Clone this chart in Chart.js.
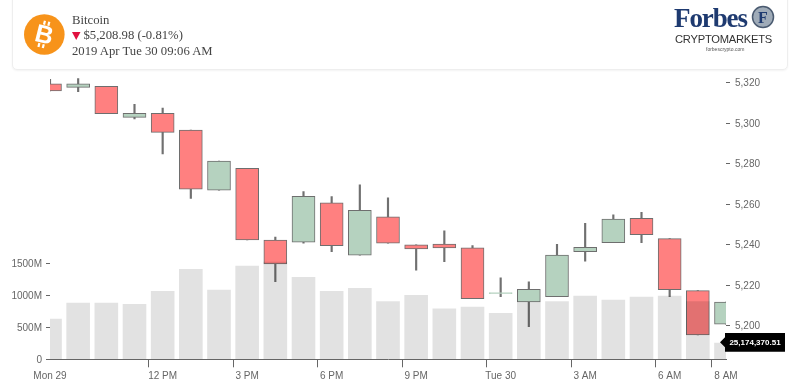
<!DOCTYPE html>
<html><head><meta charset="utf-8">
<script src="https://cdn.jsdelivr.net/npm/chart.js@4"></script>
<style>
html,body{margin:0;padding:0;background:#fff;width:801px;height:383px;overflow:hidden}
#wrap{position:relative;width:801px;height:383px}
canvas{position:absolute;left:0;top:0}
#card{position:absolute;left:12px;top:-6px;width:774px;height:74px;border:1px solid #eee;border-radius:5px;box-shadow:0 1px 2px rgba(0,0,0,.05);background:#fff}
.t{position:absolute;font-family:"Liberation Serif",serif;font-size:12.7px;color:#444;white-space:nowrap;line-height:15px}
.s{position:absolute;white-space:nowrap}
</style></head><body>
<div id="wrap">
<canvas id="c" width="801" height="383"></canvas>
<div id="card"></div>
<svg class="s" style="left:24px;top:14px" width="41" height="41" viewBox="0 0 41 41">
<circle cx="20.3" cy="20.5" r="20.3" fill="#F7931A"/>
<g transform="rotate(14 20.3 20.5)" fill="#fff">
<rect x="16.5" y="7" width="2.2" height="4"/><rect x="21" y="7" width="2.2" height="4"/>
<rect x="16.5" y="30" width="2.2" height="4"/><rect x="21" y="30" width="2.2" height="4"/>
<text x="20.3" y="29" text-anchor="middle" font-family="Liberation Sans" font-weight="700" font-size="25">B</text>
</g></svg>
<div class="t" style="left:72px;top:13px">Bitcoin</div>
<svg class="s" style="left:72px;top:32px" width="9" height="9"><polygon points="0,0 8.5,0 4.2,8" fill="#E0103F"/></svg>
<div class="t" style="left:83.5px;top:28px">$5,208.98 (-0.81%)</div>
<div class="t" style="left:72px;top:44px">2019 Apr Tue 30 09:06 AM</div>
<div class="s" style="left:674px;top:3px;font:700 27px/30px 'Liberation Serif',serif;color:#1E3A70;letter-spacing:-1.1px">Forbes</div>
<svg class="s" style="left:751px;top:5px" width="24" height="24"><circle cx="12" cy="12" r="10.5" fill="#9fabb8" stroke="#4a5a70" stroke-width="1.5"/><text x="12" y="17.5" text-anchor="middle" font-family="Liberation Serif" font-weight="700" font-size="16" fill="#1E3A70">F</text></svg>
<div class="s" style="left:675px;top:31px;font:400 11.2px/16px 'Liberation Sans',sans-serif;color:#333;letter-spacing:-.25px">CRYPTOMARKETS</div>
<div class="s" style="left:706px;top:46px;font:400 5px/6px 'Liberation Sans',sans-serif;color:#555">forbescrypto.com</div>
</div>
<script>
const categories = ['08:00','09:00','10:00','11:00','12:00','13:00','14:00','15:00','16:00','17:00','18:00','19:00','20:00','21:00','22:00','23:00','00:00','01:00','02:00','03:00','04:00','05:00','06:00','07:00','08:00'];
const xTickLabels = ['Mon 29','','','','12 PM','','','3 PM','','','6 PM','','','9 PM','','','Tue 30','','','3 AM','','','6 AM','','8 AM'];
const opens  = [5319.5,5317.7,5318.2,5302.9,5304.9,5296.6,5266.9,5277.7,5242.3,5241.2,5260.7,5234.8,5253.8,5239.9,5240.3,5238.4,5216.3,5211.7,5214.3,5236.5,5241.0,5253.0,5243.0,5217.3,5200.8];
const closes = [5315.9,5319.5,5304.7,5304.9,5295.5,5267.4,5281.3,5242.3,5230.5,5263.9,5239.5,5257.0,5240.7,5237.9,5238.4,5213.3,5215.8,5218.0,5234.9,5238.7,5252.7,5244.9,5217.8,5195.4,5211.7];
const highs  = [5321.6,5322.0,5318.2,5309.3,5307.5,5296.6,5281.3,5277.7,5243.8,5266.2,5263.7,5269.6,5263.1,5239.9,5246.8,5239.5,5223.6,5221.7,5240.2,5250.6,5254.7,5256.0,5243.0,5217.3,5211.7];
const lows   = [5315.9,5315.6,5304.7,5302.1,5284.8,5262.9,5266.9,5242.3,5221.7,5240.8,5236.5,5234.8,5240.7,5227.4,5231.6,5213.3,5214.3,5199.5,5214.3,5231.8,5241.0,5241.0,5214.3,5195.4,5200.8];
const volumes = [630,880,880,860,1062,1406,1083,1458,1520,1281,1062,1109,900,1000,790,817,718,895,900,989,927,973,989,900,255];
const priceTicks = [5200,5220,5240,5260,5280,5300,5320];
const volumeTicks = [0,500,1000,1500];
const lastVolumeLabel = '25,174,370.51';

const RED='#FF8080', GREEN='#B5D2BF', EDGE='#6e6e6e', INK='#666';
const fnt={family:'"Liberation Sans",Arial,sans-serif',size:10};
const isFlat=i=>Math.abs(opens[i]-closes[i])<0.6;

const lastTag={id:'lastTag',afterDatasetsDraw(chart){
  const {ctx}=chart, py=chart.scales.y1.getPixelForValue(volumes[volumes.length-1])-0.7;
  const px=chart.scales.x.getPixelForValue(volumes.length-1);
  const tip=px-6, l=px-1, r=px+59, h=9.4;
  ctx.save();
  ctx.fillStyle='#000';
  ctx.beginPath();ctx.moveTo(tip,py);ctx.lineTo(l,py-5);ctx.lineTo(l,py-h);ctx.lineTo(r,py-h);ctx.lineTo(r,py+h);ctx.lineTo(l,py+h);ctx.lineTo(l,py+5);ctx.closePath();ctx.fill();
  ctx.fillStyle='#fff';ctx.font='700 8px "Liberation Sans",Arial,sans-serif';ctx.textAlign='center';ctx.textBaseline='middle';
  ctx.fillText(lastVolumeLabel,(l+r)/2,py+0.5);
  ctx.restore();
}};

new Chart(document.getElementById('c'),{
  type:'bar',
  data:{labels:categories,datasets:[
    {label:'Volume',yAxisID:'y1',data:volumes,order:1,grouped:false,barThickness:23,backgroundColor:'rgba(0,0,0,0.115)',borderWidth:0},
    {label:'Body',yAxisID:'y',data:opens.map((o,i)=>[o,closes[i]]),order:2,grouped:false,barThickness:23,
      backgroundColor:ctx=>(closes[ctx.dataIndex]>=opens[ctx.dataIndex]||isFlat(ctx.dataIndex))?GREEN:RED,
      borderColor:ctx=>isFlat(ctx.dataIndex)?GREEN:EDGE,borderWidth:1,borderSkipped:false},
    {label:'Wick',yAxisID:'y',data:lows.map((l,i)=>[l,highs[i]]),order:3,grouped:false,barThickness:1.5,backgroundColor:'#707070',borderWidth:0}
  ]},
  options:{
    responsive:false,animation:false,
    layout:{padding:{top:75,left:0,right:0,bottom:0}},
    plugins:{legend:{display:false},tooltip:{enabled:false}},
    scales:{
      x:{offset:false,
        grid:{drawOnChartArea:false,tickLength:8,tickColor:c=>xTickLabels[c.index]?INK:'rgba(0,0,0,0)'},
        border:{color:INK},
        ticks:{autoSkip:false,maxRotation:0,minRotation:0,padding:3,color:INK,font:fnt,callback:(v,i)=>xTickLabels[i]},
        afterFit:s=>{s.height=23.7}},
      y:{position:'right',min:5183.4,max:5323.8,
        grid:{drawOnChartArea:false,tickLength:4,tickColor:INK},border:{display:false},
        afterBuildTicks:s=>{s.ticks=priceTicks.map(v=>({value:v}))},
        ticks:{padding:5,labelOffset:1,color:INK,font:fnt,callback:v=>v.toLocaleString('en-US')},
        afterFit:s=>{s.width=75}},
      y1:{position:'left',min:0,max:4442,
        grid:{drawOnChartArea:false,tickLength:4,tickColor:INK},border:{display:false},
        afterBuildTicks:s=>{s.ticks=volumeTicks.map(v=>({value:v}))},
        ticks:{padding:4,labelOffset:1,color:INK,font:fnt,callback:v=>v===0?'0':v+'M'},
        afterFit:s=>{s.width=50}}
    }
  },
  plugins:[lastTag]
});
</script>
</body></html>
